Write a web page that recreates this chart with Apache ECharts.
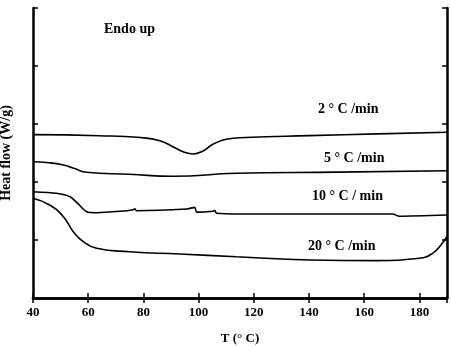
<!DOCTYPE html>
<html>
<head>
<meta charset="utf-8">
<script src="https://cdn.jsdelivr.net/npm/echarts@6/dist/echarts.min.js"></script>
<style>
  html, body { margin: 0; padding: 0; background: #fff; }
  #chart { width: 451px; height: 347px; }
</style>
</head>
<body>
<div id="chart"></div>
<script>
// x tick labels (T, °C)
const xTicks = [40, 60, 80, 100, 120, 140, 160, 180];

// 2 °C/min
const t2 = [40, 64, 79, 86, 90.7, 94.4, 98, 101.6, 105.2, 110, 117, 140, 165, 190];
const v2 = [2.816, 2.798, 2.766, 2.712, 2.609, 2.523, 2.483, 2.534, 2.65, 2.736, 2.766, 2.8, 2.83, 2.857];

// 5 °C/min
const t5 = [40, 45, 51, 55, 59.4, 75, 90.7, 113.6, 150, 190];
const v5 = [2.35, 2.336, 2.293, 2.233, 2.167, 2.133, 2.098, 2.15, 2.17, 2.195];

// 10 °C/min
const t10 = [40, 48.5, 53.4, 56, 59.4, 63, 71.5, 76.3, 76.9, 77.5, 95.6, 98.6, 99.3, 105.2, 105.8, 106.5, 114.9, 170.3, 172.7, 190];
const v10 = [1.833, 1.805, 1.747, 1.64, 1.488, 1.471, 1.495, 1.523, 1.54, 1.505, 1.534, 1.563, 1.48, 1.495, 1.51, 1.46, 1.448, 1.448, 1.41, 1.43];

// 20 °C/min
const t20 = [40, 46, 51, 54.6, 58.2, 63, 75, 93.1, 113.7, 140.1, 164.2, 180, 184.8, 187.8, 190];
const v20 = [1.719, 1.603, 1.402, 1.143, 0.971, 0.857, 0.798, 0.759, 0.712, 0.655, 0.645, 0.684, 0.77, 0.914, 1.06];

const zip = (t, v) => t.map((x, i) => [x, v[i]]);

const font = "Liberation Serif";
const axisLine = { show: true, lineStyle: { color: "#000", width: 2.5 } };
const tick = { show: true, inside: true, length: 5, lineStyle: { color: "#000", width: 1.5 } };

const chart = echarts.init(document.getElementById("chart"));

const makeLine = (name, data, smooth) => ({
  name,
  type: "line",
  data,
  showSymbol: false,
  smooth,
  lineStyle: { color: "#000", width: 1.6 },
  silent: true,
});

const textStyle = { fontFamily: font, fontWeight: "bold", fontSize: 14, fill: "#000" };
const label = (x, y, text) => ({
  type: "text",
  left: x,
  top: y,
  style: Object.assign({ text }, textStyle),
});

chart.setOption({
  animation: false,
  grid: { left: 33, top: 8, right: 4, bottom: 49, containLabel: false, outerBoundsMode: "none" },
  xAxis: [
    {
      type: "value",
      min: 40,
      max: 190,
      interval: 20,
      name: "T (° C)",
      nameLocation: "middle",
      nameGap: 34,
      nameTextStyle: { fontFamily: font, fontWeight: "bold", fontSize: 13, color: "#000" },
      axisLine,
      axisTick: tick,
      axisLabel: {
        margin: 8,
        fontFamily: font,
        fontWeight: "bold",
        fontSize: 13,
        color: "#000",
        showMaxLabel: false,
        formatter: (v) => (xTicks.includes(v) ? String(v) : ""),
      },
      splitLine: { show: false },
    },
    {
      type: "value",
      position: "top",
      min: 40,
      max: 190,
      interval: 20,
      axisLine,
      axisTick: tick,
      axisLabel: { show: false },
      splitLine: { show: false },
    },
  ],
  yAxis: [
    {
      type: "value",
      min: 0,
      max: 5,
      interval: 1,
      name: "Heat flow (W/g)",
      nameLocation: "middle",
      nameGap: 20,
      nameTextStyle: { fontFamily: font, fontWeight: "bold", fontSize: 14, color: "#000" },
      axisLine,
      axisTick: tick,
      axisLabel: { show: false },
      splitLine: { show: false },
    },
    {
      type: "value",
      position: "right",
      min: 0,
      max: 5,
      interval: 1,
      axisLine,
      axisTick: tick,
      axisLabel: { show: false },
      splitLine: { show: false },
    },
  ],
  series: [
    makeLine("2 ° C /min", zip(t2, v2), 0.5),
    makeLine("5 ° C /min", zip(t5, v5), 0.5),
    makeLine("10 ° C / min", zip(t10, v10), 0.25),
    makeLine("20 ° C /min", zip(t20, v20), 0.5),
  ],
  graphic: [
    label(104, 22, "Endo up"),
    label(318, 102, "2 ° C /min"),
    label(324, 151, "5 ° C /min"),
    label(312, 189, "10 ° C / min"),
    label(308, 239, "20 ° C /min"),
  ],
});
</script>
</body>
</html>
